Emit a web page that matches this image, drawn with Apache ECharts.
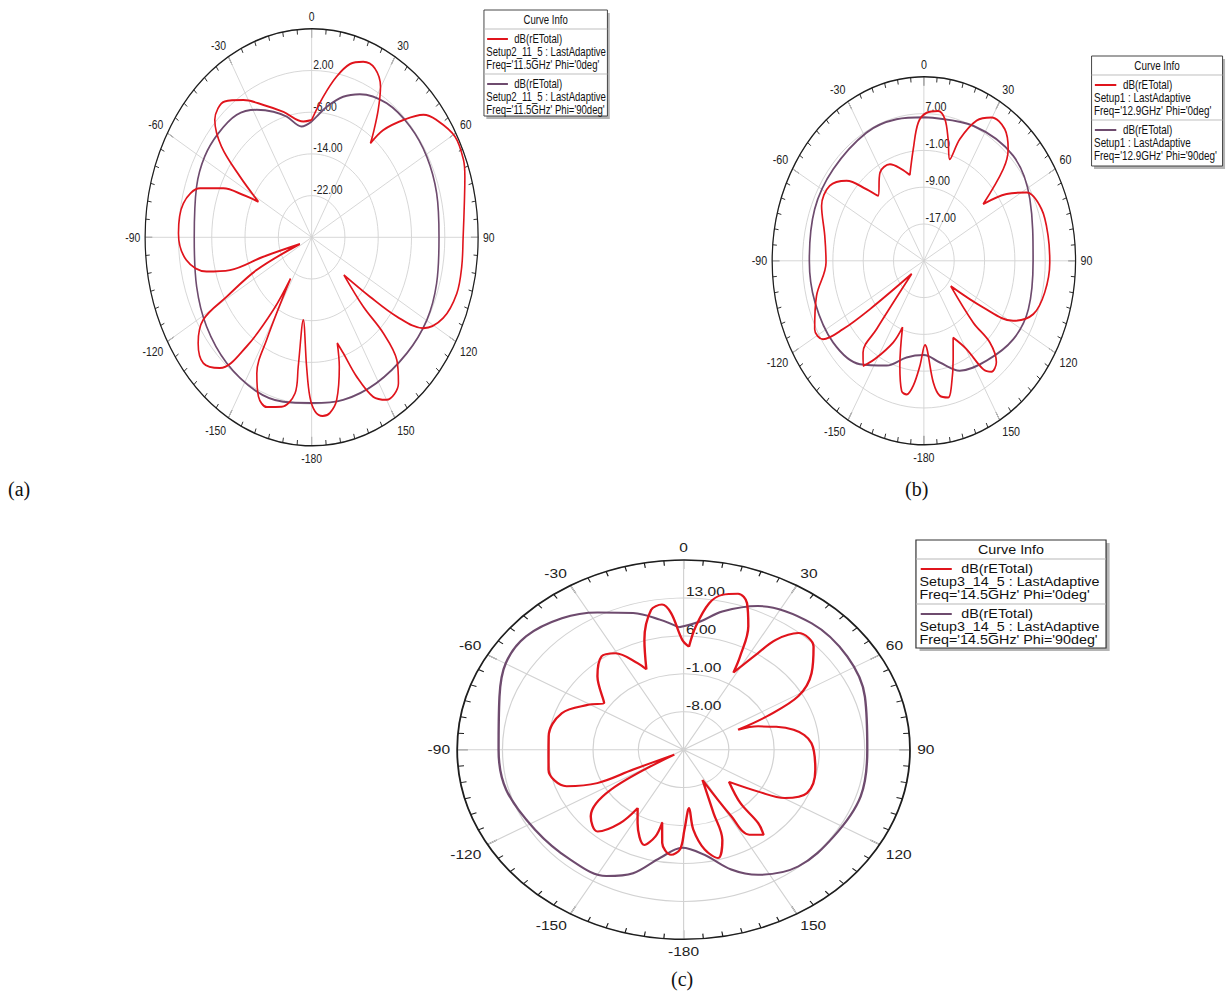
<!DOCTYPE html>
<html>
<head>
<meta charset="utf-8">
<script src="https://cdn.jsdelivr.net/npm/echarts@6/dist/echarts.min.js"></script>
<style>
html,body{margin:0;padding:0;background:#fff;width:1227px;height:993px;overflow:hidden;position:relative;}
.chart{position:absolute;transform-origin:0 0;}
.cap{position:absolute;font-family:'Liberation Serif','Times New Roman',serif;font-size:20px;color:#111;line-height:23px;}
</style>
</head>
<body>
<div id="ca" class="chart"></div>
<div id="cb" class="chart"></div>
<div id="cc" class="chart"></div>
<div class="cap" style="left:8px;top:478px">(a)</div>
<div class="cap" style="left:905px;top:478px">(b)</div>
<div class="cap" style="left:671px;top:968px">(c)</div>
<script>
// ---------- DATA: [angle (deg), gain (dB)] ----------
const redA = [[0,-7.5],[5.9,-2.9],[11,1.4],[15.5,4.5],[20.2,5.9],[25.1,5.8],[29.8,3.3],[33.2,-0.8],[36.6,-5.2],[38.1,-7.1],[39.9,-3.2],[44.4,1.5],[48.8,5.7],[53.1,7.5],[60.7,9.5],[67.8,9.4],[72.5,8.6],[79,7.4],[90,6.4],[98.9,6.5],[107.2,6.5],[116.1,5.2],[123,2.0],[126.6,-4.5],[129.1,-11.9],[133,-19.4],[137,-11.8],[136.9,-4.8],[139,1.2],[143.3,4.9],[150,6.0],[154.2,4.0],[158,-1.2],[161.1,-6.5],[163.1,-8.8],[165,-4.3],[169.1,1.8],[172.6,4.0],[175.6,4.4],[178.6,3.4],[-179.2,0.6],[-177.2,-5.2],[-172.8,-14.0],[-172.6,-5.0],[-172.4,0.2],[-167.5,3.3],[-161.7,4.3],[-157.3,3.1],[-153.2,-0.8],[-151.2,-7.6],[-147.4,-20.6],[-146.6,-13.3],[-143.3,-3.9],[-138.7,3.4],[-132.9,5.5],[-126.7,4.0],[-121.3,0.5],[-119.2,-6.6],[-115.4,-15.4],[-114.6,-26.9],[-107.8,-17.8],[-107.8,-9.4],[-104.6,-3.9],[-98.3,0.4],[-88.6,2.0],[-78.1,1.5],[-70.7,-1.6],[-66.1,-6.8],[-63.7,-11.7],[-61.9,-15.5],[-55.9,-9.2],[-51.2,-2.2],[-45.9,2.4],[-38.7,3.4],[-31.9,1.0],[-24.5,-2.1],[-15.7,-5.0],[-5.1,-7.7],[0,-7.5]];
const purpleA = [[0,-7.8],[3,-6.8],[8.2,-4.7],[15.7,-2.0],[22.9,-0.2],[35,1.4],[48.1,1.8],[60.8,1.7],[74.3,1.2],[90,0.6],[106.4,1.3],[119.8,1.9],[134.2,1.9],[150.9,2.0],[166.3,2.1],[180,1.8],[-167.8,2.3],[-155.9,2.4],[-139.8,1.6],[-124.2,0.5],[-108.9,-0.8],[-90,-1.8],[-70.6,-0.7],[-58.9,0],[-48.3,0],[-37.5,-0.4],[-28.4,-2.2],[-20.9,-4.2],[-14.5,-6.1],[-6.5,-8.6],[0,-7.8]];

const redB = [[-11.2,-6.0],[-6.6,-0.6],[-2.8,5.1],[1.3,7.2],[6.6,7.8],[10.2,6.3],[13.6,2.2],[17.2,-1.9],[19.7,3.1],[24.5,8.5],[29.8,10.9],[36.7,10.7],[42.5,7.9],[46.4,3.9],[51.8,-5.1],[56.4,1.2],[61.3,5.9],[70.1,8.0],[80.6,8.2],[90.6,8.2],[102.2,7.6],[111.9,6.1],[119,1.9],[123,-6.4],[127.9,-16.0],[135.9,-6.3],[135.6,-0.1],[139.1,4.2],[143.5,5.0],[146.4,3.3],[149.7,-2.8],[155.2,-6.6],[160.1,-2.3],[165,3.1],[167.8,5.4],[171.9,4.6],[174.6,1.6],[179.1,-6.7],[-177.4,-2.2],[-174.1,2.3],[-171.1,4.4],[-168.3,3.9],[-164.5,-1.3],[-158.7,-9.5],[-155.5,-5.5],[-148.8,0.0],[-145,2.9],[-141.2,0.6],[-140,-5.6],[-131.6,-20.7],[-126.5,-7.3],[-124.9,1.0],[-122.7,6.6],[-117.3,7.4],[-105,4.3],[-90.8,0.8],[-78.2,1.7],[-66.1,4.5],[-56.7,4.7],[-49.5,1.8],[-44.2,-3.3],[-40.5,-6.4],[-31.1,-2.6],[-23.1,-2.2],[-16.5,-4.2],[-11.2,-6.0]];
const purpleB = [[0,6.2],[23.9,7.1],[45.9,7.8],[64.4,6.0],[90,3.8],[110.9,4.5],[125.9,4.1],[142.7,2.3],[158.4,0.7],[169.2,-2.5],[180,-4.5],[-167.7,-3.5],[-156.7,-0.2],[-143.1,3.1],[-126.6,4.8],[-107.5,5.1],[-90,5.2],[-68.7,5.9],[-50.2,6.1],[-28.5,6.7],[-13.2,6.6],[0,6.2]];

const redC = [[2.5,4.0],[4.7,7.8],[8.3,12.3],[11.8,14.2],[16.3,15.0],[19.9,13.8],[23.7,9.9],[26.9,4.3],[28.4,1.2],[32.8,6.2],[35.1,9.8],[39.5,12.9],[46.5,12.7],[54.5,9.3],[60.9,5.3],[64.4,-0.7],[66.4,-5.8],[69.5,-2.7],[77.8,2.4],[86.5,4.8],[100.3,5.7],[112.7,5.7],[119.7,3.0],[123.8,-1.1],[130.2,-5.8],[138.3,-1.8],[139.6,2.8],[141.8,5.0],[147.1,3.7],[149,-0.7],[152.3,-8.7],[158.4,-2.4],[160.2,2.7],[165.1,5.7],[170,3.7],[174.2,-0.2],[175.5,-4.2],[179.5,-0.2],[-178.3,3.4],[-174.3,4.5],[-169.1,2.5],[-166.2,-1.1],[-164.8,1.6],[-161,3.6],[-152.3,0.3],[-146.6,-2.1],[-144,1.8],[-138.6,5.1],[-130.6,3.9],[-123.3,-1.6],[-122.4,-13.3],[-115.2,-6.4],[-114.8,-0.3],[-110.4,4.3],[-100,6.2],[-83.3,6.0],[-70.3,5.0],[-60.6,1.9],[-55,0.0],[-44.5,4.0],[-36.3,6.4],[-30.6,5.7],[-24,2.5],[-21.2,0.9],[-16.6,6.2],[-11,11.3],[-7.1,12.0],[-4.4,10.3],[-0.6,5.3],[2.5,4.0]];
const purpleC = [[-1.8,7.6],[6.2,8.8],[13.2,11.2],[23.4,13.9],[40.3,15.6],[55.8,15.6],[70.7,14.7],[90,13.4],[107.5,13.7],[124.5,13.2],[140.6,12.9],[153.5,10.8],[161.6,8.3],[170.5,4.7],[-179.3,3.1],[-169.7,5.3],[-161.1,9.1],[-152.9,11.2],[-139.3,11.8],[-122.8,12.3],[-105.1,13.4],[-90,13.6],[-71,15.1],[-59.8,16.8],[-49.3,17.1],[-37.8,15.7],[-27.7,13.6],[-17.2,11.4],[-8.7,9.3],[-1.8,7.6]];

// radial axis ranges [min, max, step]
const radA = [-30, 10, 8];
const radB = [-25, 15, 8];
const radC = [-15, 20, 7];

// legend texts
const legA = ['dB(rETotal)', 'Setup2_11_5 : LastAdaptive', "Freq='11.5GHz' Phi='0deg'", "Freq='11.5GHz' Phi='90deg'"];
const legB = ['dB(rETotal)', 'Setup1 : LastAdaptive', "Freq='12.9GHz' Phi='0deg'", "Freq='12.9GHz' Phi='90deg'"];
const legC = ['dB(rETotal)', 'Setup3_14_5 : LastAdaptive', "Freq='14.5GHz' Phi='0deg'", "Freq='14.5GHz' Phi='90deg'"];

// ---------- STYLE / LAYOUT ----------
const RED = '#e0141c';
const PURPLE = '#6e4b6e';
const FONT = "'Liberation Sans', Arial, sans-serif";
const GRID = '#d2d2d2';
const INK = '#1e1e1e';

function toPolar(pts){ return pts.map(p => [p[1], p[0] < 0 ? p[0] + 360 : p[0]]); }

function legendGraphic(x, y, w, h, texts){
  const t = (str, tx, ty, align) => ({type:'text', x:tx, y:ty, style:{text:str, fill:'#111', font:'12px ' + FONT, align:align||'left', verticalAlign:'middle', textAlign:align||'left', textVerticalAlign:'middle'}});
  return {type:'group', x:x, y:y, children:[
    {type:'rect', shape:{x:3, y:3, width:w, height:h}, style:{fill:'#b5b5b5'}},
    {type:'rect', shape:{x:0, y:0, width:w, height:h}, style:{fill:'#fff', stroke:'#333', lineWidth:1}},
    t('Curve Info', w/2, 10, 'center'),
    {type:'line', shape:{x1:0, y1:19, x2:w, y2:19}, style:{stroke:'#b8b8b8', lineWidth:1}},
    {type:'line', shape:{x1:4, y1:29, x2:30, y2:29}, style:{stroke:RED, lineWidth:2}},
    t(texts[0], 38, 29), t(texts[1], 3, 42), t(texts[2], 3, 55),
    {type:'line', shape:{x1:0, y1:64, x2:w, y2:64}, style:{stroke:'#b8b8b8', lineWidth:1}},
    {type:'line', shape:{x1:4, y1:74, x2:30, y2:74}, style:{stroke:PURPLE, lineWidth:2}},
    t(texts[0], 38, 74), t(texts[1], 3, 87), t(texts[3], 3, 100)
  ]};
}

function build(L, red, purple, rad, leg){
  const el = document.getElementById(L.id);
  const sx = L.rx / L.ry;
  const cyb = L.cy - L.top;
  el.style.width = L.baseW + 'px';
  el.style.height = L.baseH + 'px';
  el.style.left = (L.cx - L.baseCx * sx) + 'px';
  el.style.top = L.top + 'px';
  el.style.transform = 'scaleX(' + sx + ')';
  const chart = echarts.init(el, null, {renderer:'svg'});
  const [rmin, rmax, step] = rad;
  chart.setOption({
    animation:false,
    textStyle:{fontFamily:FONT},
    polar:{center:[L.baseCx, cyb], radius:L.ry},
    angleAxis:{
      type:'value', min:0, max:360, interval:30, startAngle:90, clockwise:true,
      axisLine:{show:true, lineStyle:{color:INK, width:1.5}},
      axisTick:{show:true, inside:true, length:9, lineStyle:{color:INK, width:1}},
      minorTick:{show:true, splitNumber:6, length:5, lineStyle:{color:INK, width:1}},
      axisLabel:{show:true, margin:6, fontSize:13, color:'#222', fontFamily:FONT,
        formatter:v => v === 360 ? '' : String(v >= 180 ? v - 360 : v)},
      splitLine:{show:true, lineStyle:{color:GRID, width:1}}
    },
    radiusAxis:{
      type:'value', min:rmin, max:rmax, interval:step,
      axisLine:{show:false}, axisTick:{show:false},
      axisLabel:{show:true, fontSize:13, color:'#222', fontFamily:FONT, margin:-2, align:'left', verticalAlign:'bottom',
        formatter:v => (Math.abs(v - rmin) < 1e-9 || Math.abs(v - rmax) < 1e-9) ? '' : v.toFixed(2)},
      splitLine:{show:true, lineStyle:{color:GRID, width:1}}
    },
    graphic:[legendGraphic(L.baseCx + L.legX, cyb + L.legY, L.legW, L.legH, leg)],
    series:[
      {type:'line', coordinateSystem:'polar', data:toPolar(purple), symbol:'none', smooth:0.35, lineStyle:{color:PURPLE, width:2}, z:2},
      {type:'line', coordinateSystem:'polar', data:toPolar(red), symbol:'none', smooth:0.35, lineStyle:{color:RED, width:2}, z:3}
    ]
  });
}

build({id:'ca', cx:311.7, cy:237.3, rx:166.5, ry:208.5, baseCx:260, baseW:650, top:0, baseH:480, legX:215.8, legY:-227.3, legW:154.6, legH:106}, redA, purpleA, radA, legA);
build({id:'cb', cx:924, cy:260.8, rx:151.7, ry:184, baseCx:240, baseW:610, top:30, baseH:470, legX:203.4, legY:-204.8, legW:158.9, legH:110}, redB, purpleB, radB, legB);
build({id:'cc', cx:683.6, cy:749.7, rx:226.4, ry:189.6, baseCx:240, baseW:610, top:520, baseH:450, legX:194.6, legY:-209.7, legW:159.2, legH:108}, redC, purpleC, radC, legC);
</script>
</body>
</html>
